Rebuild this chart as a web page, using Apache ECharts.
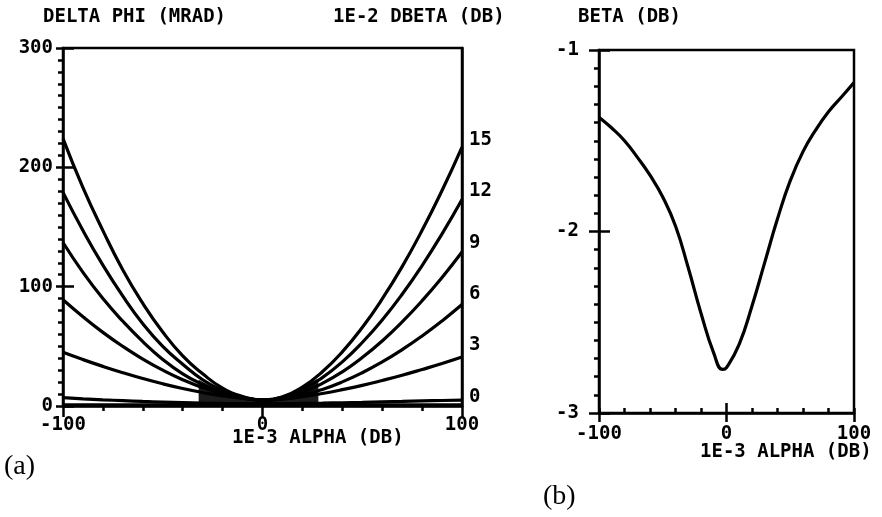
<!DOCTYPE html>
<html>
<head>
<meta charset="utf-8">
<script src="https://cdn.jsdelivr.net/npm/echarts@6/dist/echarts.min.js"></script>
<style>
html,body{margin:0;padding:0;background:#fff;}
#chart{width:882px;height:517px;}
</style>
</head>
<body>
<div id="chart"></div>
<script>
// ---- data ----
const alpha = [-100,-90,-80,-70,-60,-50,-40,-30,-20,-10,0,10,20,30,40,50,60,70,80,90,100];
const phi1 = [224,183,147,114,86,62,42,27,15,8,5,7.7,15.9,28.7,45.4,65.8,89.7,116.8,147.2,180.6,217];
const phi2 = [179,147,118,92,69,50,35,22,13,7.4,5,7.1,13.7,23.8,37,53.2,72.1,93.6,117.7,144.2,173];
const phi3 = [137,112,90,71,54,39,27,18,11,6.8,5,6.6,11.4,18.9,28.6,40.6,54.5,70.4,88.2,107.7,129];
const phi4 = [89,74.8,61.7,49.9,39.3,30,22,15.4,10.3,6.8,5,6,9.1,13.9,20.2,27.9,36.9,47.2,58.7,71.3,85];
const phi5 = [45,38.9,33.2,27.9,23,18.6,14.7,11.3,8.4,6.3,5,5.8,7.8,10.5,13.7,17.3,21.4,25.8,30.6,35.6,41];
const phi6 = [7,6,5.2,4.5,3.8,3.3,2.8,2.4,2.2,2,2,2,2.2,2.4,2.7,3,3.5,3.9,4.3,4.6,5];
const phi7 = [1,1,1,1,1,1,1,1,1,1,1,1,1,1,1,1,1,1,1,1,1];
const shadeX = [-32,-26,-21,-13,-2,8,17,23.5,28];
const shadeY = [22,17,13,9,6.5,8,12,19,23];
const betaX = [-100,-90,-80,-70,-60,-50,-40,-30,-20,-10,-3,0,10,20,30,40,50,60,70,80,90,100];
const betaY = [-1.37,-1.43,-1.50,-1.59,-1.69,-1.81,-1.97,-2.20,-2.45,-2.67,-2.76,-2.75,-2.62,-2.41,-2.17,-1.93,-1.72,-1.56,-1.44,-1.34,-1.26,-1.18];
const phiTicks = [0,100,200,300];
const dbetaTicks = [0,3,6,9,12,15];
const alphaTicks = [-100,0,100];
const betaTicks = [-3,-2,-1];

const phiCurves = [phi1,phi2,phi3,phi4,phi5,phi6,phi7];

const FONT = 'DejaVu Sans Mono';
const lab = {color:'#000', fontFamily:FONT, fontSize:19, fontWeight:'bold'};
const black = {color:'#000', width:2.5};
const TF = 'bold 19px "DejaVu Sans Mono"';

const chart = echarts.init(document.getElementById('chart'), null, {renderer:'canvas'});

const series = [];
series.push({
  type:'line', xAxisIndex:0, yAxisIndex:0, data: shadeX.map((x,i)=>[x,shadeY[i]]),
  smooth:true, symbol:'none', lineStyle:{width:0}, areaStyle:{color:'#1c1c1c', opacity:1}, z:2
});
phiCurves.forEach(c => series.push({
  type:'line', xAxisIndex:0, yAxisIndex:0, data: alpha.map((x,i)=>[x,c[i]]),
  smooth:true, symbol:'none', lineStyle:{color:'#000', width:3.2}, z:3
}));
series.push({
  type:'line', xAxisIndex:1, yAxisIndex:3, data: betaX.map((x,i)=>[x,betaY[i]]),
  smooth:true, symbol:'none', lineStyle:{color:'#000', width:3.2}
});

const labelOnly = (vals) => (v) => vals.indexOf(Math.round(v*1000)/1000) >= 0 ? String(Math.round(v)) : '';

chart.setOption({
  animation:false,
  backgroundColor:'#fff',
  grid:[
    {left:63, top:48, width:399, height:358, show:true, borderColor:'#000', borderWidth:2.5, backgroundColor:'transparent'},
    {left:599, top:50, width:255, height:363, show:true, borderColor:'#000', borderWidth:2.5, backgroundColor:'transparent'}
  ],
  xAxis:[
    {gridIndex:0, type:'value', position:'bottom', min:-100, max:100, interval:20,
     axisLine:{onZero:false, lineStyle:black}, axisTick:{length:5, lineStyle:black},
     axisLabel:Object.assign({margin:10, formatter:labelOnly(alphaTicks)}, lab), splitLine:{show:false}},
    {gridIndex:1, type:'value', position:'bottom', min:-100, max:100, interval:20,
     axisLine:{onZero:false, lineStyle:black}, axisTick:{inside:true, length:5, lineStyle:black},
     axisLabel:Object.assign({margin:12, formatter:labelOnly(alphaTicks)}, lab), splitLine:{show:false}},
    {gridIndex:0, type:'value', position:'bottom', min:-100, max:100, interval:100,
     axisLine:{show:false, onZero:false}, axisTick:{length:11, lineStyle:black}, axisLabel:{show:false}, splitLine:{show:false}},
    {gridIndex:1, type:'value', position:'bottom', min:-100, max:100, interval:100,
     axisLine:{show:false, onZero:false}, axisTick:{length:9, lineStyle:black}, axisLabel:{show:false}, splitLine:{show:false}},
    {gridIndex:1, type:'value', position:'bottom', min:-100, max:100, interval:100,
     axisLine:{show:false, onZero:false}, axisTick:{inside:true, length:10, customValues:[0], lineStyle:black}, axisLabel:{show:false}, splitLine:{show:false}}
  ],
  yAxis:[
    {gridIndex:0, type:'value', min:0, max:300, interval:100, position:'left',
     axisLine:{show:true, onZero:false, lineStyle:black}, axisTick:{show:true, length:7, lineStyle:black},
     minorTick:{show:true, splitNumber:10, length:5, lineStyle:black},
     axisLabel:Object.assign({margin:10}, lab), splitLine:{show:false}, minorSplitLine:{show:false}},
    {gridIndex:0, type:'value', min:0, max:300, interval:100, position:'left',
     axisLine:{show:false, onZero:false}, axisTick:{show:true, inside:true, length:11, lineStyle:black},
     axisLabel:{show:false}, splitLine:{show:false}},
    {gridIndex:0, type:'value', min:-0.53, max:20.37, position:'right',
     axisLine:{show:true, onZero:false, lineStyle:black}, axisTick:{show:false},
     axisLabel:Object.assign({margin:7, customValues:dbetaTicks}, lab), splitLine:{show:false}},
    {gridIndex:1, type:'value', min:-3, max:-1, interval:1, position:'left',
     axisLine:{show:true, onZero:false, lineStyle:black}, axisTick:{show:true, length:10, lineStyle:black},
     minorTick:{show:true, splitNumber:10, length:5, lineStyle:black},
     axisLabel:Object.assign({margin:20}, lab), splitLine:{show:false}, minorSplitLine:{show:false}},
    {gridIndex:1, type:'value', min:-3, max:-1, interval:1, position:'left',
     axisLine:{show:false, onZero:false}, axisTick:{show:true, inside:true, length:11, lineStyle:black},
     axisLabel:{show:false}, splitLine:{show:false}}
  ],
  graphic:[
    {type:'text', x:43, y:17, style:{text:'DELTA PHI (MRAD)', font:TF, fill:'#000', textAlign:'left', textVerticalAlign:'middle'}},
    {type:'text', x:333, y:17, style:{text:'1E-2 DBETA (DB)', font:TF, fill:'#000', textAlign:'left', textVerticalAlign:'middle'}},
    {type:'text', x:578, y:17, style:{text:'BETA (DB)', font:TF, fill:'#000', textAlign:'left', textVerticalAlign:'middle'}},
    {type:'text', x:232, y:438, style:{text:'1E-3 ALPHA (DB)', font:TF, fill:'#000', textAlign:'left', textVerticalAlign:'middle'}},
    {type:'text', x:700, y:452, style:{text:'1E-3 ALPHA (DB)', font:TF, fill:'#000', textAlign:'left', textVerticalAlign:'middle'}},
    {type:'text', x:4, y:467, style:{text:'(a)', font:'28px "Liberation Serif"', fill:'#000', textAlign:'left', textVerticalAlign:'middle'}},
    {type:'text', x:543, y:497, style:{text:'(b)', font:'28px "Liberation Serif"', fill:'#000', textAlign:'left', textVerticalAlign:'middle'}}
  ],
  series: series
});
</script>
</body>
</html>
